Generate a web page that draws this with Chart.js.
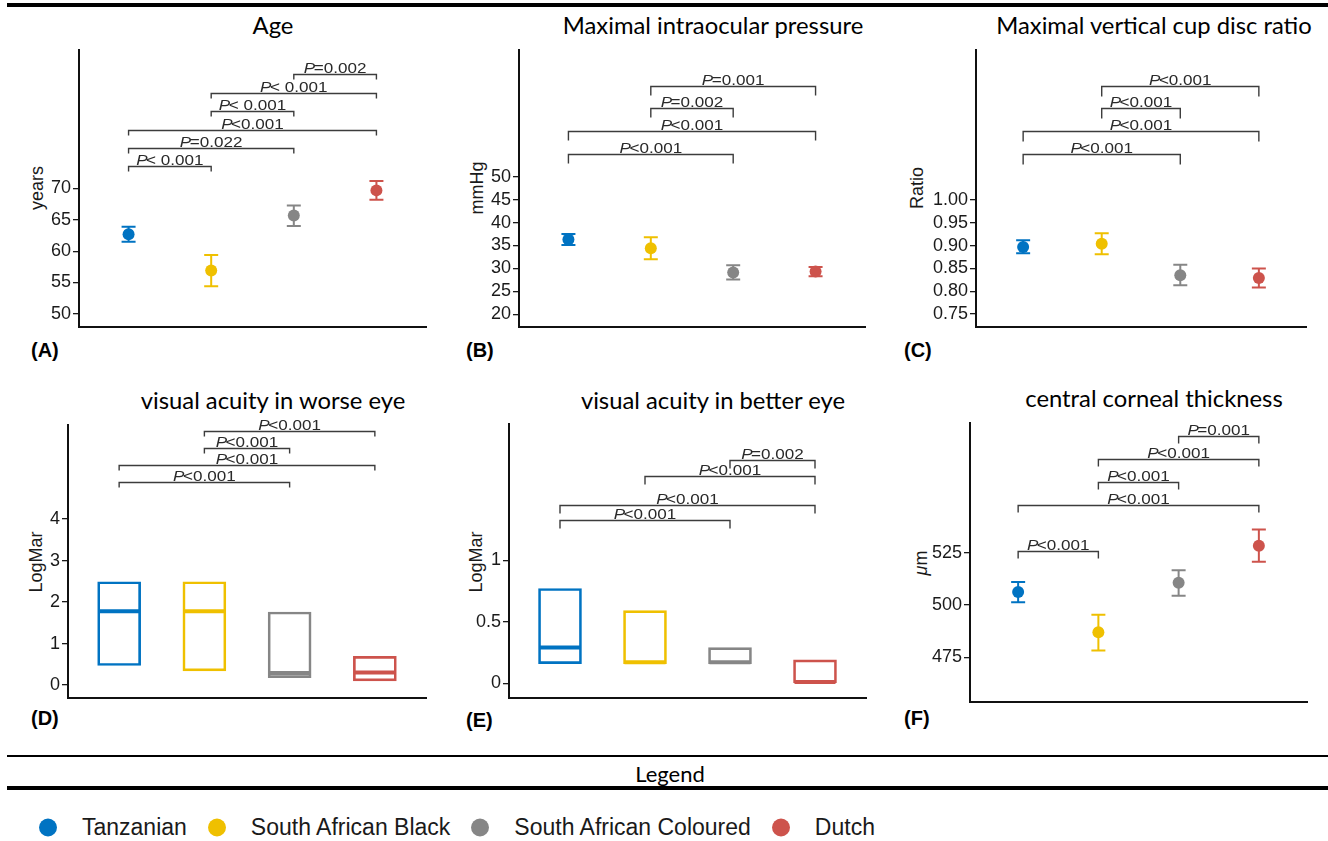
<!DOCTYPE html>
<html><head><meta charset="utf-8">
<script src="https://cdn.jsdelivr.net/npm/chart.js@4.4.1/dist/chart.umd.min.js"></script>
<style>
html,body{margin:0;padding:0;background:#fff}
body{width:1328px;height:841px;position:relative;overflow:hidden;font-family:"Liberation Sans",Arial,sans-serif}
canvas{position:absolute}
.title{position:absolute;font-family:Lato,"Open Sans",sans-serif;font-size:23.8px;color:#000;white-space:nowrap;transform:translate(-50%,-50%)}
.plabel{position:absolute;font-family:"Liberation Sans",Arial,sans-serif;font-weight:bold;font-size:20px;color:#000;transform:translate(0,-50%)}
.ytitle{position:absolute;font-family:"Liberation Sans",Arial,sans-serif;font-size:18px;color:#1a1a1a;white-space:nowrap;transform:translate(-50%,-50%) rotate(-90deg)}
.hline{position:absolute;left:7px;right:0;background:#000}
#legtitle{position:absolute;left:670px;top:773px;transform:translate(-50%,-50%);font-family:Lato,"Open Sans",sans-serif;font-size:22px;color:#000}
#legend{position:absolute;left:39px;top:827px;transform:translate(0,-50%);display:flex;align-items:center;font-family:"Liberation Sans",Arial,sans-serif;font-size:23px;color:#1a1a1a;white-space:nowrap}
#legend .dot{width:18px;height:18px;border-radius:50%;margin-right:25px}
#legend .txt{margin-right:21px}
</style></head><body>
<div class="hline" style="top:3px;height:4px"></div>
<div class="hline" style="top:755px;height:2px"></div>
<div class="hline" style="top:786px;height:4px"></div>
<div id="legtitle">Legend</div>
<div id="legend"></div>
<script>
// ---------- data ----------
const groups = ['Tanzanian','South African Black','South African Coloured','Dutch'];
const groupColors = ['#0073C2','#EFC000','#868686','#CD534C'];
const panelTitles = ['Age','Maximal intraocular pressure','Maximal vertical cup disc ratio','visual acuity in worse eye','visual acuity in better eye','central corneal thickness'];
const panelLetters = ['(A)','(B)','(C)','(D)','(E)','(F)'];
const yTitles = ['years','mmHg','Ratio','LogMar','LogMar','<i>\u03bc</i>m'];

// (A) Age
const ageMean = [62.7, 56.9, 65.7, 69.7];
const ageLow  = [61.5, 54.4, 64.0, 68.2];
const ageHigh = [63.9, 59.4, 67.3, 71.2];
const ageTicks = [50,55,60,65,70];
const ageTickLabels = ['50','55','60','65','70'];
const ageBrPairs = [[1,2],[1,3],[1,4],[2,3],[2,4],[3,4]];
const ageBrLevels = [73.55, 76.4, 79.3, 82.3, 85.2, 88.3];
const ageBrLabels = ['P< 0.001','P=0.022','P<0.001','P< 0.001','P< 0.001','P=0.002'];

// (B) Maximal intraocular pressure
const iopMean = [36.3, 34.4, 29.1, 29.3];
const iopLow  = [35.1, 32.0, 27.6, 28.3];
const iopHigh = [37.5, 36.8, 30.7, 30.3];
const iopTicks = [20,25,30,35,40,45,50];
const iopTickLabels = ['20','25','30','35','40','45','50'];
const iopBrPairs = [[1,3],[1,4],[2,3],[2,4]];
const iopBrLevels = [54.95, 59.9, 65.0, 69.9];
const iopBrLabels = ['P<0.001','P<0.001','P=0.002','P=0.001'];

// (C) Maximal vertical cup disc ratio
const cdrMean = [0.897, 0.904, 0.835, 0.829];
const cdrLow  = [0.883, 0.881, 0.813, 0.808];
const cdrHigh = [0.912, 0.927, 0.858, 0.850];
const cdrTicks = [0.75,0.80,0.85,0.90,0.95,1.00];
const cdrTickLabels = ['0.75','0.80','0.85','0.90','0.95','1.00'];
const cdrBrPairs = [[1,3],[1,4],[2,3],[2,4]];
const cdrBrLevels = [1.101, 1.151, 1.202, 1.251];
const cdrBrLabels = ['P<0.001','P<0.001','P<0.001','P<0.001'];

// (D) visual acuity in worse eye (box: Q1, median, Q3)
const vaWorseQ1  = [0.47, 0.34, 0.18, 0.10];
const vaWorseMed = [1.78, 1.78, 0.29, 0.30];
const vaWorseQ3  = [2.49, 2.49, 1.76, 0.69];
const vaWorseTicks = [0,1,2,3,4];
const vaWorseTickLabels = ['0','1','2','3','4'];
const vaWorseBrPairs = [[1,3],[1,4],[2,3],[2,4]];
const vaWorseBrLevels = [4.906, 5.316, 5.725, 6.135];
const vaWorseBrLabels = ['P<0.001','P<0.001','P<0.001','P<0.001'];

// (E) visual acuity in better eye
const vaBetterQ1  = [0.16, 0.16, 0.16, 0.00];
const vaBetterMed = [0.29, 0.17, 0.17, 0.01];
const vaBetterQ3  = [0.77, 0.59, 0.29, 0.19];
const vaBetterTicks = [0,0.5,1];
const vaBetterTickLabels = ['0','0.5','1'];
const vaBetterBrPairs = [[1,3],[1,4],[2,4],[3,4]];
const vaBetterBrLevels = [1.329, 1.451, 1.687, 1.811];
const vaBetterBrLabels = ['P<0.001','P<0.001','P<0.001','P=0.002'];

// (F) central corneal thickness
const cctMean = [506.2, 487.0, 510.7, 528.3];
const cctLow  = [501.3, 478.3, 504.4, 520.6];
const cctHigh = [511.0, 495.4, 516.6, 536.0];
const cctTicks = [475,500,525];
const cctTickLabels = ['475','500','525'];
const cctBrPairs = [[1,2],[1,4],[2,3],[2,4],[3,4]];
const cctBrLevels = [525.8, 547.8, 558.7, 569.7, 580.5];
const cctBrLabels = ['P<0.001','P<0.001','P<0.001','P<0.001','P=0.001'];

// ---------- layout ----------
const boxes = [
  {L:79,T:50,R:426,B:327},{L:519,T:50,R:865,B:327},{L:976,T:50,R:1306,B:327},
  {L:68,T:425,R:426,B:698},{L:509,T:424,R:866,B:698},{L:970,T:423,R:1307,B:702}
];
const titlePos = [[273,25],[713,25],[1154,25],[273,400],[713,400],[1154,398]];
const letterPos = [[31,350],[466,350],[904,350],[31,718],[466,720],[904,718]];
const yTitlePos = [[37,188],[477,188],[917,188],[36,562],[476,562],[921,563]];

panelTitles.forEach((t,i)=>{
  const d=document.createElement('div');d.className='title';d.textContent=t;
  d.style.left=titlePos[i][0]+'px';d.style.top=titlePos[i][1]+'px';document.body.appendChild(d);
  const l=document.createElement('div');l.className='plabel';l.textContent=panelLetters[i];
  l.style.left=letterPos[i][0]+'px';l.style.top=letterPos[i][1]+'px';document.body.appendChild(l);
  const y=document.createElement('div');y.className='ytitle';y.innerHTML=yTitles[i];
  y.style.left=yTitlePos[i][0]+'px';y.style.top=yTitlePos[i][1]+'px';document.body.appendChild(y);
});
const leg=document.getElementById('legend');
groups.forEach((g,i)=>{
  const d=document.createElement('span');d.className='dot';d.style.background=groupColors[i];leg.appendChild(d);
  const t=document.createElement('span');t.className='txt';t.textContent=g;leg.appendChild(t);
});

// ---------- plugins ----------
const errPlugin = {
  id:'errorbars',
  beforeDatasetsDraw(chart,args,opts){
    if(!opts || !opts.low) return;
    const {ctx} = chart; const x=chart.scales.x, y=chart.scales.y;
    ctx.save(); ctx.lineWidth=2;
    opts.low.forEach((lo,i)=>{
      const px=x.getPixelForValue(i+1), y1=y.getPixelForValue(lo), y2=y.getPixelForValue(opts.high[i]);
      ctx.strokeStyle=opts.colors[i];
      ctx.beginPath();
      ctx.moveTo(px,y1);ctx.lineTo(px,y2);
      ctx.moveTo(px-opts.cap,y1);ctx.lineTo(px+opts.cap,y1);
      ctx.moveTo(px-opts.cap,y2);ctx.lineTo(px+opts.cap,y2);
      ctx.stroke();
    });
    ctx.restore();
  }
};
const brPlugin = {
  id:'brackets',
  afterDatasetsDraw(chart,args,opts){
    if(!opts || !opts.pairs) return;
    const {ctx} = chart; const x=chart.scales.x, y=chart.scales.y;
    const fam='"Liberation Sans", Arial, sans-serif', fs=14, sx=1.22, gap=-1.2;
    ctx.save();
    opts.pairs.forEach((p,i)=>{
      const x1=x.getPixelForValue(p[0]), x2=x.getPixelForValue(p[1]);
      const yy=Math.round(y.getPixelForValue(opts.levels[i]))+0.5;
      ctx.strokeStyle='#3c3c3c'; ctx.lineWidth=1.4;
      ctx.beginPath();
      ctx.moveTo(x1,yy+opts.tick);ctx.lineTo(x1,yy);ctx.lineTo(x2,yy);ctx.lineTo(x2,yy+opts.tick);
      ctx.stroke();
      const lab=opts.labels[i], head=lab[0], rest=lab.slice(1);
      ctx.font='italic '+fs+'px '+fam; const w1=ctx.measureText(head).width;
      ctx.font=fs+'px '+fam; const w2=ctx.measureText(rest).width;
      const total=(w1+w2+gap)*sx, cx=(x1+x2)/2;
      ctx.save(); ctx.translate(cx-total/2, yy-2); ctx.scale(sx,1);
      ctx.fillStyle='#2a2a2a'; ctx.textAlign='left'; ctx.textBaseline='alphabetic';
      ctx.font='italic '+fs+'px '+fam; ctx.fillText(head,0,0);
      ctx.font=fs+'px '+fam; ctx.fillText(rest,w1+gap,0);
      ctx.restore();
    });
    ctx.restore();
  }
};
Chart.register(errPlugin, brPlugin);
Chart.defaults.font.family='"Liberation Sans", Arial, sans-serif';
Chart.defaults.animation=false;

function panel(idx, type, datasets, yMin, yMax, ticks, tickLabels, err, br){
  const {L,T,R,B}=boxes[idx];
  const padL=70,padT=26,padR=6,padB=6;
  const w=R-L+padL+padR, h=B-T+padT+padB;
  const cv=document.createElement('canvas');
  cv.width=w;cv.height=h;cv.style.width=w+'px';cv.style.height=h+'px';
  cv.style.left=(L-padL)+'px';cv.style.top=(T-padT)+'px';
  document.body.appendChild(cv);
  new Chart(cv,{
    type, data:{datasets},
    options:{
      responsive:false, animation:false, devicePixelRatio:1, events:[],
      layout:{autoPadding:false,padding:{top:padT,right:padR,bottom:padB,left:0}},
      plugins:{legend:{display:false},tooltip:{enabled:false},errorbars:err||{},brackets:br},
      scales:{
        x:{type:'linear',min:0.4,max:4.6,offset:false,ticks:{display:false},
           grid:{display:false,drawTicks:false,offset:false},border:{display:true,color:'#111',width:2},
           afterFit(s){s.height=0;s.paddingLeft=0;s.paddingRight=0;s.paddingTop=0;s.paddingBottom=0;}},
        y:{type:'linear',min:yMin,max:yMax,
           afterBuildTicks(s){s.ticks=ticks.map(v=>({value:v}));},
           afterFit(s){s.width=padL;s.paddingTop=0;s.paddingBottom=0;s.paddingLeft=0;s.paddingRight=0;},
           ticks:{callback:(v,i)=>tickLabels[i],color:'#1a1a1a',padding:2,font:{size:18}},
           grid:{display:true,drawOnChartArea:false,drawTicks:true,tickLength:6,color:'#1a1a1a',lineWidth:1.3},
           border:{display:true,color:'#111',width:2}}
      }
    }
  });
}
function pts(arr){return arr.map((v,i)=>({x:i+1,y:v}));}
function meanSet(m){return [{type:'scatter',data:pts(m),pointRadius:6,pointBackgroundColor:groupColors,pointBorderColor:groupColors,pointBorderWidth:0}];}
function boxSets(q1,med,q3){
  return [
    {type:'scatter',order:0,data:pts(med),pointStyle:'line',pointRadius:20.5,pointBorderWidth:4,pointBorderColor:groupColors,pointBackgroundColor:groupColors},
    {type:'bar',order:1,data:q1.map((v,i)=>({x:i+1,y:[v,q3[i]]})),backgroundColor:'rgba(255,255,255,0)',borderColor:groupColors,borderWidth:2,borderSkipped:false,barThickness:43}
  ];
}
const errOpt=(lo,hi)=>({low:lo,high:hi,colors:groupColors,cap:7});

panel(0,'scatter',meanSet(ageMean),47.9,92.1,ageTicks,ageTickLabels,errOpt(ageLow,ageHigh),
  {pairs:ageBrPairs,levels:ageBrLevels,labels:ageBrLabels,tick:5});
panel(1,'scatter',meanSet(iopMean),17.2,77.7,iopTicks,iopTickLabels,errOpt(iopLow,iopHigh),
  {pairs:iopBrPairs,levels:iopBrLevels,labels:iopBrLabels,tick:9});
panel(2,'scatter',meanSet(cdrMean),0.7215,1.329,cdrTicks,cdrTickLabels,errOpt(cdrLow,cdrHigh),
  {pairs:cdrBrPairs,levels:cdrBrLevels,labels:cdrBrLabels,tick:10});
panel(3,'bar',boxSets(vaWorseQ1,vaWorseMed,vaWorseQ3),-0.313,6.27,vaWorseTicks,vaWorseTickLabels,null,
  {pairs:vaWorseBrPairs,levels:vaWorseBrLevels,labels:vaWorseBrLabels,tick:5});
panel(4,'bar',boxSets(vaBetterQ1,vaBetterMed,vaBetterQ3),-0.12,2.107,vaBetterTicks,vaBetterTickLabels,null,
  {pairs:vaBetterBrPairs,levels:vaBetterBrLevels,labels:vaBetterBrLabels,tick:8});
panel(5,'scatter',meanSet(cctMean),453.8,586.8,cctTicks,cctTickLabels,errOpt(cctLow,cctHigh),
  {pairs:cctBrPairs,levels:cctBrLevels,labels:cctBrLabels,tick:7});
</script>
</body></html>
